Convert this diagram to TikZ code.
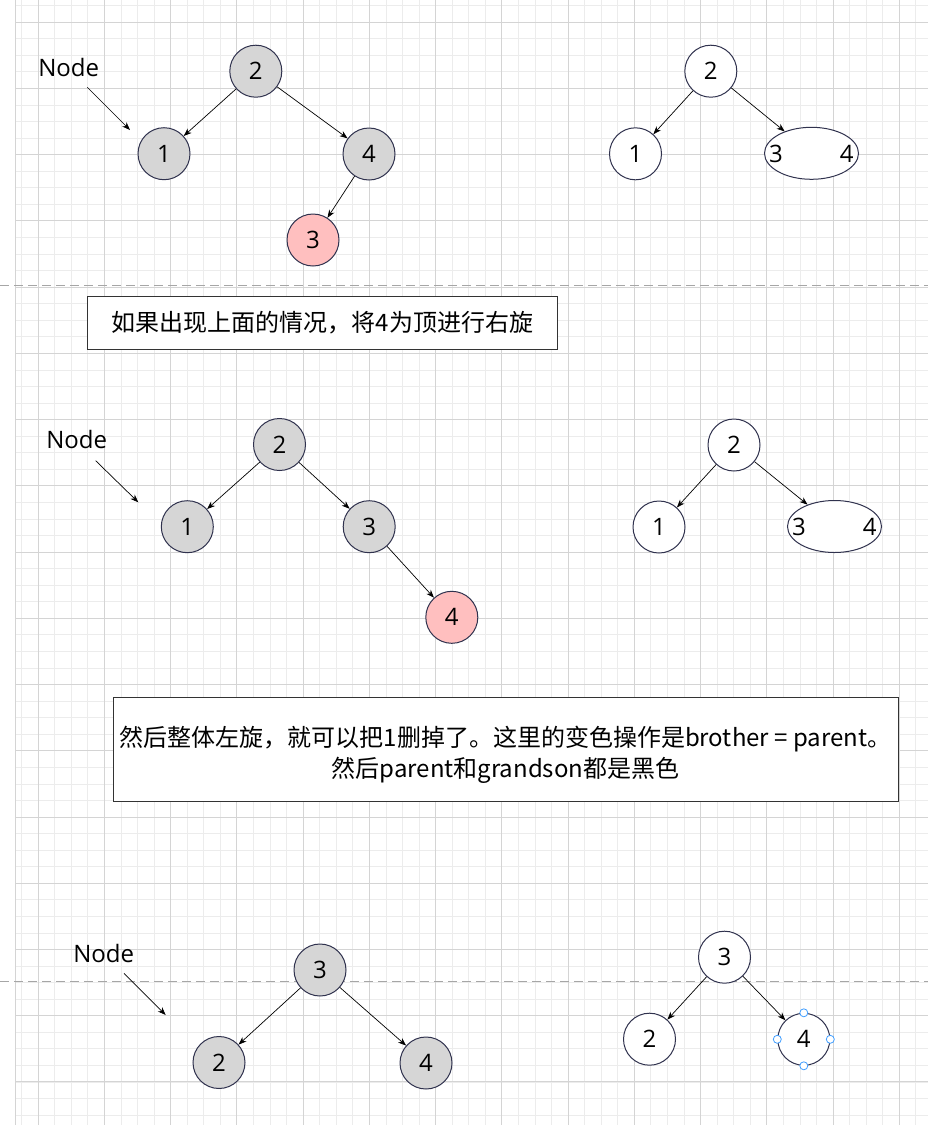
\documentclass[tikz,border=0pt]{standalone}
\usepackage{fontspec}
\setmainfont{Open Sans}
\newfontfamily\cjk{Noto Sans CJK SC}
\usetikzlibrary{shapes.geometric,arrows.meta}
\definecolor{rim}{RGB}{48,50,78}
\definecolor{greyfill}{RGB}{214,214,214}
\definecolor{rose}{RGB}{255,191,191}
\definecolor{minorgrid}{RGB}{236,236,236}
\definecolor{majorgrid}{RGB}{212,212,212}
\definecolor{handle}{RGB}{64,158,255}

\begin{document}
\begin{tikzpicture}[x=1pt,y=-1pt,
    every node/.style={font=\fontsize{24}{31}\selectfont},
    ballnode/.style={circle,draw=rim,line width=1pt,minimum size=52pt,inner sep=0pt},
    blacknode/.style={ballnode,fill=greyfill},
    rednode/.style={ballnode,fill=rose},
    freenode/.style={ballnode,fill=white},
    pairnode/.style={ellipse,draw=rim,line width=1pt,fill=white,minimum width=94pt,minimum height=52pt,inner sep=0pt},
    link/.style={-{Stealth[length=8pt,width=6pt,inset=2.5pt]},line width=0.7pt},
    note/.style={draw=black!80,line width=1pt,fill=white,inner sep=0pt,align=center},
    handlemark/.style={circle,draw=handle,fill=white,line width=0.8pt,minimum size=8pt,inner sep=0pt},
    cut/.style={draw=black!35,line width=1pt,dash pattern=on 9pt off 5pt}]

    \useasboundingbox[fill=white] (0,0) rectangle (928,1125);

    \begin{scope}
    \clip (15.3,0) rectangle (928,1125);
    \foreach \i in {0,...,54}
    \draw[minorgrid,line width=1pt] (21.7+16.56*\i,0) -- ++(0,1125);
    \foreach \i in {0,...,67}
    \draw[minorgrid,line width=1pt] (15.3,5.7+16.56*\i) -- ++(913,0);
    \foreach \i in {0,...,13}
    \draw[majorgrid,line width=1pt] (38.3+66.23*\i,0) -- ++(0,1125);
    \foreach \i in {0,...,16}
    \draw[majorgrid,line width=1pt] (15.3,22.3+66.23*\i) -- ++(913,0);
    \end{scope}
    \draw[majorgrid,line width=1pt] (15.3,0) -- (15.3,1125);

    \draw[cut] (0,285.7) -- (928,285.7);
    \draw[cut] (0,981) -- (928,981);

    \node (node1) at (68.7,67.2) {Node};
    \coordinate (from1) at (87.3,87.3);
    \coordinate (to1) at (130,130);
    \draw[link] (from1) -- (to1);

    \node[blacknode] (a2) at (255.8,71.2) {2};
    \node[blacknode] (a1) at (164,153.7) {1};
    \node[blacknode] (a4) at (369,154) {4};
    \node[rednode]   (a3) at (313,240) {3};
    \draw[link] (a2) -- (a1);
    \draw[link] (a2) -- (a4);
    \draw[link] (a4) -- (a3);

    \node[freenode] (b2) at (710.8,71.2) {2};
    \node[freenode] (b1) at (635.5,153.8) {1};
    \node[pairnode] (b34) at (811.5,153.3) {};
    \node (b3) at (775.9,153.8) {3};
    \node (b4) at (846.7,153.8) {4};
    \draw[link] (b2) -- (b1);
    \draw[link] (b2) -- (b34);

    \node[note,minimum width=470.4pt,minimum height=52.3pt] (rotr) at (322.5,322.9)
        {\cjk 如果出现上面的情况，将4为顶进行右旋};

    \node (node2) at (76.7,439.7) {Node};
    \coordinate (from2) at (95.7,460.7);
    \coordinate (to2) at (138.3,502.3);
    \draw[link] (from2) -- (to2);

    \node[blacknode] (c2) at (279.5,444.5) {2};
    \node[blacknode] (c1) at (187.3,526.7) {1};
    \node[blacknode] (c3) at (369.2,526.7) {3};
    \node[rednode]   (c4) at (451.8,617.3) {4};
    \draw[link] (c2) -- (c1);
    \draw[link] (c2) -- (c3);
    \draw[link] (c3) -- (c4);

    \node[freenode] (d2) at (734,445) {2};
    \node[freenode] (d1) at (659,527) {1};
    \node[pairnode] (d34) at (834.5,526.5) {};
    \node (d3) at (798.9,527) {3};
    \node (d4) at (869.7,527) {4};
    \draw[link] (d2) -- (d1);
    \draw[link] (d2) -- (d34);

    \node[note,minimum width=785pt,minimum height=104pt] (rotl) at (505.5,749) {};
    \node[align=center] (rotltext) at (505.5,754.5)
        {\cjk 然后整体左旋，就可以把1删掉了。这里的变色操作是brother = parent。\\
         \cjk 然后parent和grandson都是黑色};

    \node (node3) at (103.7,953) {Node};
    \coordinate (from3) at (124,973.3);
    \coordinate (to3) at (165.7,1015);
    \draw[link] (from3) -- (to3);

    \node[blacknode] (e3) at (320,970) {3};
    \node[blacknode] (e2) at (219,1062.5) {2};
    \node[blacknode] (e4) at (426,1063) {4};
    \draw[link] (e3) -- (e2);
    \draw[link] (e3) -- (e4);

    \node[freenode] (f3) at (724.5,957.2) {3};
    \node[freenode] (f2) at (649.5,1039.2) {2};
    \node[freenode] (f4) at (803.8,1039.3) {4};
    \draw[link] (f3) -- (f2);
    \draw[link] (f3) -- (f4);
    \foreach \s in {north,south,east,west}
    \node[handlemark] (h\s) at (f4.\s) {};

\end{tikzpicture}
\end{document}
